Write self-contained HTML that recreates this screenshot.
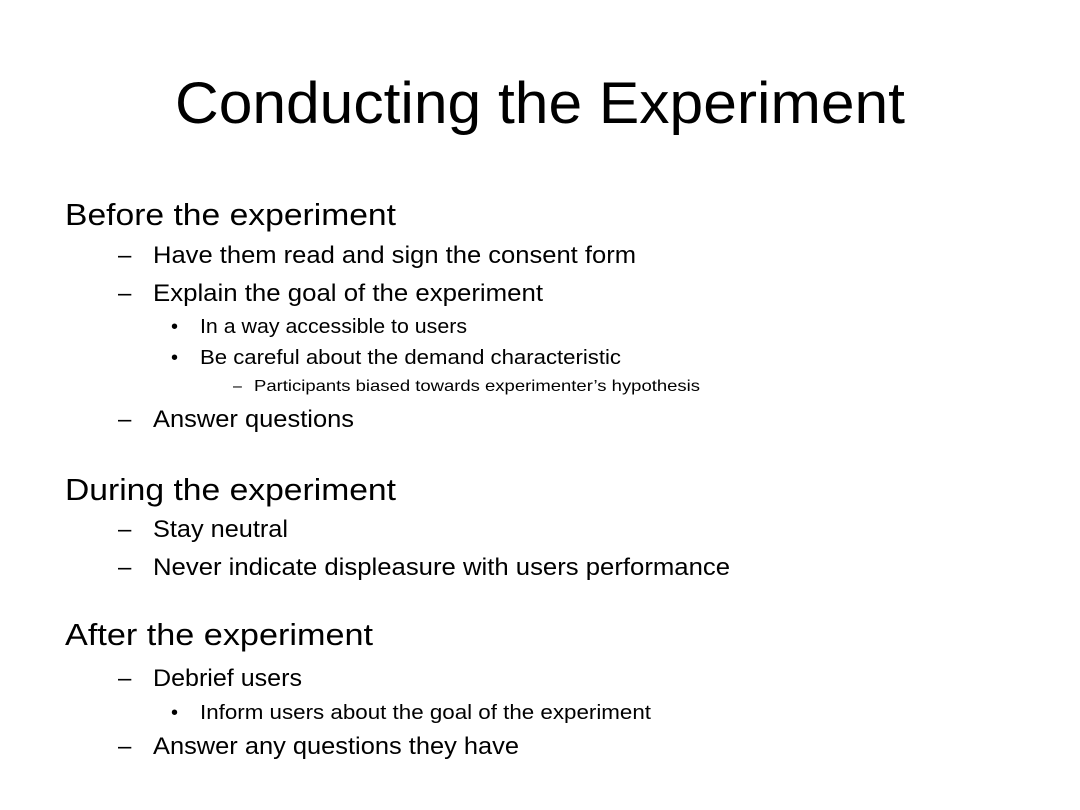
<!DOCTYPE html>
<html><head><meta charset="utf-8"><style>
html,body{margin:0;padding:0;background:#fff;}
svg{display:block;}
text{font-family:"Liberation Sans",sans-serif;fill:#000;}
</style></head><body>
<svg width="1080" height="810" viewBox="0 0 1080 810" xmlns="http://www.w3.org/2000/svg">
<rect width="1080" height="810" fill="#fff"/>
<text x="175" y="123" font-size="58" textLength="730" lengthAdjust="spacingAndGlyphs">Conducting the Experiment</text>

<text x="65" y="225" font-size="31" textLength="331" lengthAdjust="spacingAndGlyphs">Before the experiment</text>
<text x="118" y="263" font-size="24">–</text>
<text x="153" y="263" font-size="24" textLength="483" lengthAdjust="spacingAndGlyphs">Have them read and sign the consent form</text>
<text x="118" y="301" font-size="24">–</text>
<text x="153" y="301" font-size="24" textLength="390" lengthAdjust="spacingAndGlyphs">Explain the goal of the experiment</text>
<text x="171" y="333" font-size="20">•</text>
<text x="200" y="333" font-size="20" textLength="267" lengthAdjust="spacingAndGlyphs">In a way accessible to users</text>
<text x="171" y="364" font-size="20">•</text>
<text x="200" y="364" font-size="20" textLength="421" lengthAdjust="spacingAndGlyphs">Be careful about the demand characteristic</text>
<text x="233" y="391" font-size="16">–</text>
<text x="254" y="391" font-size="16" textLength="446" lengthAdjust="spacingAndGlyphs">Participants biased towards experimenter’s hypothesis</text>
<text x="118" y="427" font-size="24">–</text>
<text x="153" y="427" font-size="24" textLength="201" lengthAdjust="spacingAndGlyphs">Answer questions</text>

<text x="65" y="500" font-size="31" textLength="331" lengthAdjust="spacingAndGlyphs">During the experiment</text>
<text x="118" y="537" font-size="24">–</text>
<text x="153" y="537" font-size="24" textLength="135" lengthAdjust="spacingAndGlyphs">Stay neutral</text>
<text x="118" y="575" font-size="24">–</text>
<text x="153" y="575" font-size="24" textLength="577" lengthAdjust="spacingAndGlyphs">Never indicate displeasure with users performance</text>

<text x="65" y="645" font-size="31" textLength="308" lengthAdjust="spacingAndGlyphs">After the experiment</text>
<text x="118" y="686" font-size="24">–</text>
<text x="153" y="686" font-size="24" textLength="149" lengthAdjust="spacingAndGlyphs">Debrief users</text>
<text x="171" y="719" font-size="20">•</text>
<text x="200" y="719" font-size="20" textLength="451" lengthAdjust="spacingAndGlyphs">Inform users about the goal of the experiment</text>
<text x="118" y="754" font-size="24">–</text>
<text x="153" y="754" font-size="24" textLength="366" lengthAdjust="spacingAndGlyphs">Answer any questions they have</text>
</svg>
</body></html>
